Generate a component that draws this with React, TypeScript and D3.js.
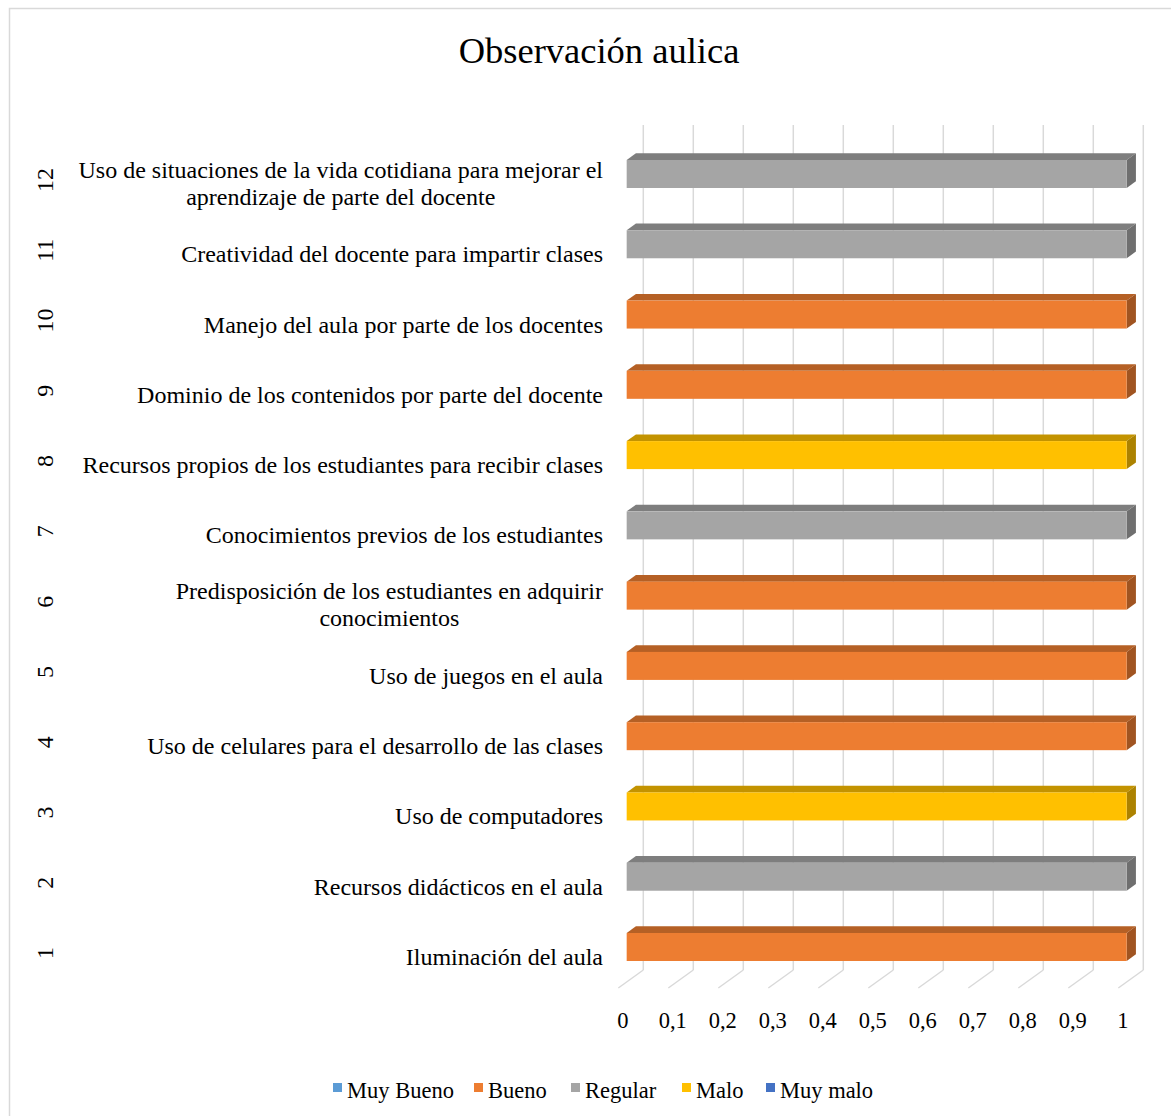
import React from "react";
import * as d3 from "d3";

// Items observed in class, numbered 1..12 (bottom to top)
const itemNumbers = ["1", "2", "3", "4", "5", "6", "7", "8", "9", "10", "11", "12"];
const itemLabels: string[][] = [
  ["Iluminación del aula"],
  ["Recursos didácticos en el aula"],
  ["Uso de computadores"],
  ["Uso de celulares para el desarrollo de las clases"],
  ["Uso de juegos en el aula"],
  ["Predisposición de los estudiantes en adquirir", "conocimientos"],
  ["Conocimientos previos de los estudiantes"],
  ["Recursos propios de los estudiantes para recibir clases"],
  ["Dominio de los contenidos por parte del docente"],
  ["Manejo del aula por parte de los docentes"],
  ["Creatividad del docente para impartir clases"],
  ["Uso de situaciones de la vida cotidiana para mejorar el", "aprendizaje de parte del docente"],
];

// Rating series
const seriesNames = ["Muy Bueno", "Bueno", "Regular", "Malo", "Muy malo"];
const seriesColors = ["#5B9BD5", "#ED7D31", "#A5A5A5", "#FFC000", "#4472C4"];

// Value of each series per item (item 1..12)
const muyBueno = [0, 0, 0, 0, 0, 0, 0, 0, 0, 0, 0, 0];
const bueno = [1, 0, 0, 1, 1, 1, 0, 0, 1, 1, 0, 0];
const regular = [0, 1, 0, 0, 0, 0, 1, 0, 0, 0, 1, 1];
const malo = [0, 0, 1, 0, 0, 0, 0, 1, 0, 0, 0, 0];
const muyMalo = [0, 0, 0, 0, 0, 0, 0, 0, 0, 0, 0, 0];
const seriesValues = [muyBueno, bueno, regular, malo, muyMalo];

const xTicks = [0, 0.1, 0.2, 0.3, 0.4, 0.5, 0.6, 0.7, 0.8, 0.9, 1];

const FONT = "'Liberation Serif', 'Times New Roman', serif";

let measureCtx: CanvasRenderingContext2D | null = null;
function textWidth(s: string, size: number): number {
  if (!measureCtx) measureCtx = document.createElement("canvas").getContext("2d");
  if (!measureCtx) return s.length * size * 0.45;
  measureCtx.font = `${size}px ${FONT}`;
  return measureCtx.measureText(s).width;
}

export default function App() {
  const W = 1171;
  const H = 1116;

  // front-floor horizontal scale
  const x = d3.scaleLinear().domain([0, 1]).range([618.3, 1118.3]);
  // bar front-face centre per item
  const y = d3
    .scalePoint<string>()
    .domain([...itemNumbers].reverse())
    .range([174, 947]);

  // 3D depth vector (front -> back wall)
  const depthX = 25;
  const depthY = -18;
  const floorFrontY = 988;
  const wallTop = 125;
  const barD0 = 0.335;
  const barD1 = 0.705;
  const barH = 28;

  const labelSize = 24;
  const labelRight = 603;

  const shade = (c: string, k: number) => d3.color(c)!.darker(k).formatHex();

  const bars: { item: string; s: number; v: number }[] = [];
  itemNumbers.forEach((item, i) => {
    seriesValues.forEach((vals, s) => {
      if (vals[i] > 0) bars.push({ item, s, v: vals[i] });
    });
  });

  const legendX = [333, 474, 571, 682, 766];

  return (
    <svg
      width={W}
      height={H}
      style={{ position: "absolute", left: 0, top: 0, background: "#fff" }}
      fontFamily={FONT}
    >
      <rect x={9.5} y={8.5} width={W + 10} height={H + 10} fill="#fff" stroke="#D9D9D9" strokeWidth={1.5} />

      <text x={599} y={63} textAnchor="middle" fontSize={36.5} fill="#000">
        Observación aulica
      </text>

      {/* back-wall and floor gridlines */}
      <g stroke="#D9D9D9" strokeWidth={1.5} fill="none">
        {xTicks.map((t) => {
          const bx = x(t) + depthX;
          const by = floorFrontY + depthY;
          return (
            <g key={t}>
              <line x1={bx} x2={bx} y1={wallTop} y2={by} />
              <line x1={bx} y1={by} x2={x(t)} y2={floorFrontY} />
            </g>
          );
        })}
      </g>

      {/* 3D bars */}
      {bars.map((b) => {
        const c = seriesColors[b.s];
        const cy = y(b.item)!;
        const fx0 = x(0) + depthX * barD0;
        const fx1 = x(b.v) + depthX * barD0;
        const top = cy - barH / 2;
        const bot = cy + barH / 2;
        const dx = depthX * (barD1 - barD0);
        const dy = depthY * (barD1 - barD0);
        return (
          <g key={b.item + "-" + b.s}>
            <polygon
              points={`${fx0},${top} ${fx0 + dx},${top + dy} ${fx1 + dx},${top + dy} ${fx1},${top}`}
              fill={shade(c, 0.75)}
            />
            <polygon
              points={`${fx1},${top} ${fx1 + dx},${top + dy} ${fx1 + dx},${bot + dy} ${fx1},${bot}`}
              fill={shade(c, 1.1)}
            />
            <rect x={fx0} y={top} width={fx1 - fx0} height={barH} fill={c} />
          </g>
        );
      })}

      {/* x tick labels */}
      {xTicks.map((t) => (
        <text key={t} x={x(t) + 4.5} y={1028} textAnchor="middle" fontSize={22.5} fill="#000">
          {d3.format(".1~f")(t).replace(".", ",")}
        </text>
      ))}

      {/* category labels: block right-aligned, lines centred inside it */}
      {itemNumbers.map((item, i) => {
        const cy = y(item)!;
        const lines = itemLabels[i];
        const lh = 27;
        const blockW = Math.max(...lines.map((l) => textWidth(l, labelSize)));
        const cx = labelRight - blockW / 2;
        const first = cy + 18 - ((lines.length - 1) * lh) / 2 - (lines.length > 1 ? 1 : 0);
        return (
          <g key={item}>
            <text textAnchor="middle" fontSize={labelSize} fill="#000">
              {lines.map((ln, k) => (
                <tspan key={k} x={cx} y={first + k * lh}>
                  {ln}
                </tspan>
              ))}
            </text>
            <text
              transform={`translate(53,${cy + 6}) rotate(-90)`}
              textAnchor="middle"
              fontSize={24}
              fill="#000"
            >
              {item}
            </text>
          </g>
        );
      })}

      {/* legend */}
      {seriesNames.map((name, i) => (
        <g key={name}>
          <rect x={legendX[i]} y={1083} width={9} height={9} fill={seriesColors[i]} />
          <text x={legendX[i] + 14} y={1098} fontSize={22.5} fill="#000">
            {name}
          </text>
        </g>
      ))}
    </svg>
  );
}
